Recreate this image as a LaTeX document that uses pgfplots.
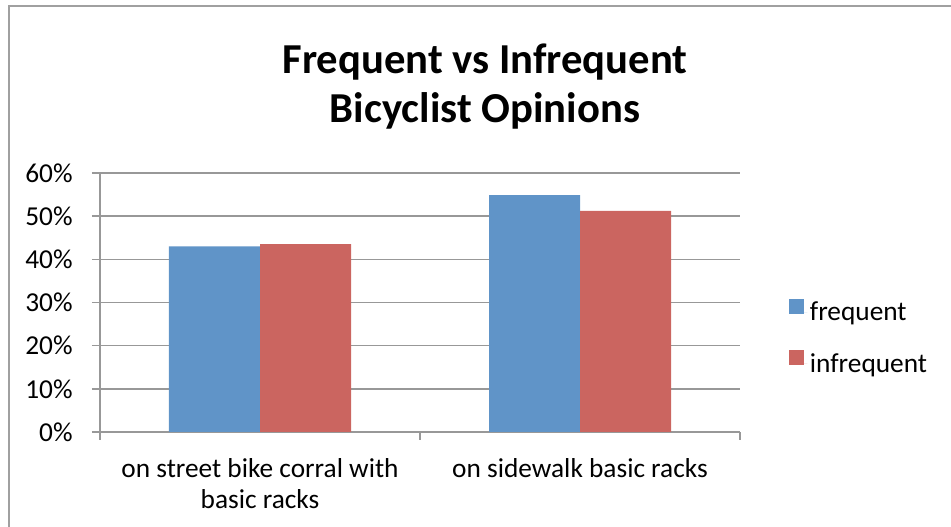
\documentclass[border=0pt]{standalone}
\usepackage{fontspec}
\setmainfont{Carlito}
\usepackage{pgfplots}
\pgfplotsset{compat=1.18}

\definecolor{freqblue}{RGB}{96,148,200}
\definecolor{infred}{RGB}{203,101,96}
\definecolor{gridgray}{RGB}{152,152,152}
\definecolor{framegray}{RGB}{160,160,160}

\begin{document}
\begin{tikzpicture}
  % 1px = 0.75pt, picture 951x527 px
  \useasboundingbox (0,0) rectangle (713.25pt,395.25pt);
  \draw[framegray, line width=1.5pt] (6.75pt,0pt) -- (6.75pt,390.75pt) -- (713.25pt,390.75pt);

  \node[anchor=base, font=\fontsize{32}{38}\selectfont\bfseries] at (363.75pt,339.75pt) {Frequent vs Infrequent};
  \node[anchor=base, font=\fontsize{32}{38}\selectfont\bfseries] at (363.75pt,303pt) {Bicyclist Opinions};

  \begin{axis}[
    at={(75pt,71.25pt)}, anchor=south west,
    scale only axis,
    width=480pt, height=194.25pt,
    ybar=0pt, bar width=68.25pt,
    xmin=-0.5, xmax=1.5,
    ymin=0, ymax=60,
    axis lines*=left,
    axis line style={gridgray, line width=1.2pt},
    xtick={-0.5,0.5,1.5},
    x tick label as interval,
    xticklabels={{on street bike corral with\\basic racks}, {on sidewalk basic racks}},
    xticklabel style={align=center, font=\fontsize{20.5}{23.3}\selectfont, yshift=-10.5pt},
    ytick={0,10,20,30,40,50,60},
    yticklabel={\pgfmathprintnumber{\tick}\%},
    yticklabel style={font=\fontsize{20.5}{22}\selectfont, xshift=-11pt},
    /pgf/number format/assume math mode=true,
    tick align=outside,
    major tick length=6pt,
    tick style={gridgray, line width=1.2pt},
    ymajorgrids,
    grid style={gridgray, line width=1.2pt},
    legend style={at={(1.0,0.363)}, anchor=west, xshift=33.75pt, draw=none, fill=none,
      font=\fontsize{20.5}{22}\selectfont, row sep=18.5pt},
    legend cell align=left,
    legend image code/.code={\path (0pt,0pt) -- (13.5pt,0pt);
      \fill[#1] (0pt,-1pt) rectangle (11.25pt,10.25pt);},
  ]
    \addplot[fill=freqblue, draw=none] coordinates {(0,43) (1,54.9)};
    \addlegendentry{frequent}
    \addplot[fill=infred, draw=none] coordinates {(0,43.5) (1,51.2)};
    \addlegendentry{infrequent}
  \end{axis}
\end{tikzpicture}
\end{document}
